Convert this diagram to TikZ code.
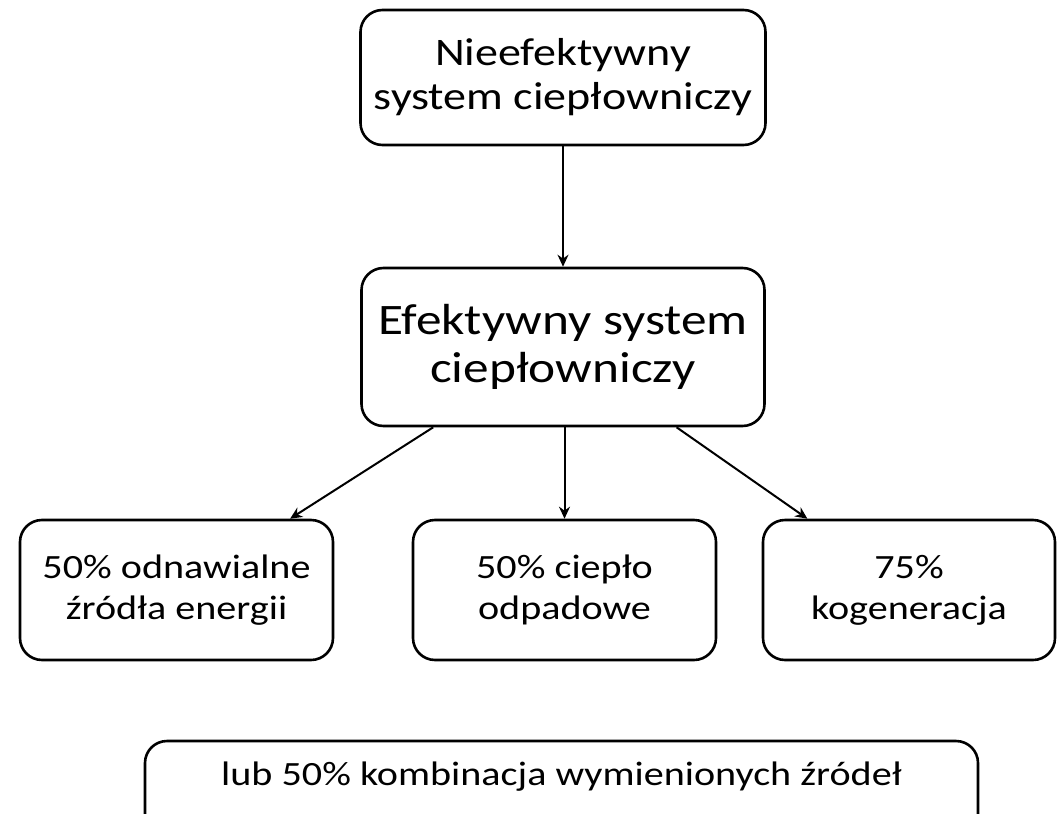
\documentclass[tikz,border=0pt]{standalone}
\usepackage{fontspec}
\setmainfont{Carlito}[FakeStretch=1.18]
\usetikzlibrary{calc,arrows.meta}

\tikzset{
  box/.style={draw, line width=2.6pt, rounded corners=22pt, align=center, inner sep=0pt},
  link/.style={line width=2pt, -{Stealth[length=12pt,width=11pt]}}
}

\begin{document}
\begin{tikzpicture}[x=1pt,y=-1pt]
\useasboundingbox (0,0) rectangle (1059,813);
% upper level
\node[box, minimum width=405pt, minimum height=135pt, font=\fontsize{39}{44}\selectfont] (nieef) at (563,77.5) {Nieefektywny\\system ciepłowniczy};
\node[box, minimum width=403pt, minimum height=158pt, font=\fontsize{43.5}{48}\selectfont] (eff) at (563,347) {Efektywny system\\ciepłowniczy};
% sources
\node[box, minimum width=313pt, minimum height=140pt, font=\fontsize{34}{41}\selectfont] (src1) at (176.5,590) {50\% odnawialne\\źródła energii};
\node[box, minimum width=303pt, minimum height=140pt, font=\fontsize{34}{41}\selectfont] (src2) at (564.5,590) {50\% ciepło\\odpadowe};
\node[box, minimum width=292pt, minimum height=140pt, font=\fontsize{34}{41}\selectfont] (src3) at (909,590) {75\%\\kogeneracja};
% bottom note, cut by the page edge
\begin{scope}
\clip (0,0) rectangle (1059,813);
\draw[line width=2.6pt, rounded corners=22pt] (145,741) rectangle (978,860);
\end{scope}
\node[font=\fontsize{34}{41}\selectfont] (combo) at (561.5,777) {lub 50\% kombinacja wymienionych źródeł};

\draw[link] (nieef.south) -- (eff.north);
\draw[link] ($(eff.south west)!0.18!(eff.south east)$) -- ($(src1.north west)!0.86!(src1.north east)$);
\draw[link] (eff.south -| src2.north) -- (src2.north);
\draw[link] ($(eff.south west)!0.78!(eff.south east)$) -- ($(src3.north west)!0.155!(src3.north east)$);
\end{tikzpicture}
\end{document}
